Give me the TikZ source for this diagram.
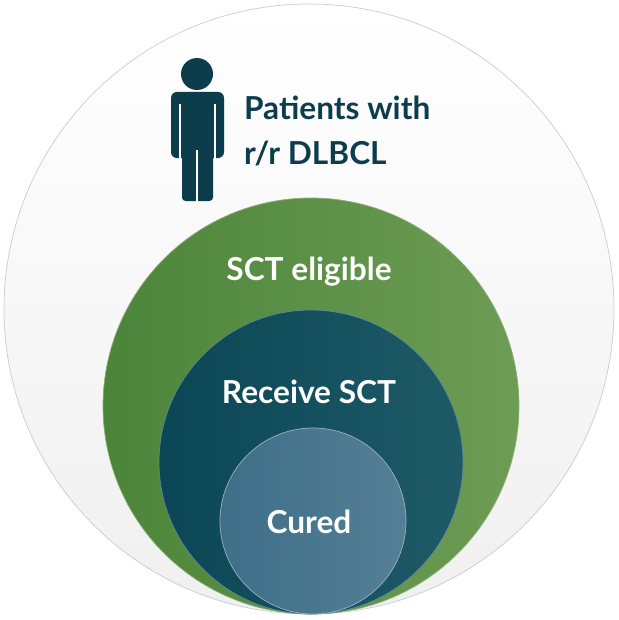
\documentclass[tikz,border=0pt]{standalone}
\usepackage{fontspec}
\setmainfont{Lato}
\usetikzlibrary{positioning}
\definecolor{ink}{HTML}{0D3D4D}
\definecolor{rimgray}{HTML}{C8CDCD}
\definecolor{greenA}{HTML}{4B853A}
\definecolor{greenB}{HTML}{6E9C55}
\definecolor{tealA}{HTML}{0B4656}
\definecolor{tealB}{HTML}{1E5A66}
\definecolor{curedA}{HTML}{3E6E88}
\definecolor{curedB}{HTML}{557F96}
\begin{document}
\begin{tikzpicture}[x=0.03cm, y=-0.03cm,
  ring/.style={draw, line width=0.6pt},
  label/.style={text=white, font=\fontsize{27}{32}\selectfont\bfseries},
  title/.style={text=ink, align=left, font=\fontsize{27}{38}\selectfont\bfseries, anchor=west}
  ]
  \useasboundingbox (0,0) rectangle (618,620);

  % nested circles, all touching at the bottom
  \shade[ring, draw=rimgray, top color=white, bottom color=gray!12] (309,309) circle (305);
  \shade[ring, draw=greenB!80!white, left color=greenA, right color=greenB] (311,406) circle (208);
  \shade[ring, draw=tealB!70!white, left color=tealA, right color=tealB] (311,462) circle (152);
  \shade[ring, draw=curedB!60!white, left color=curedA, right color=curedB] (313,521) circle (93);

  % person icon
  \fill[ink] (197,74) circle (16);
  \fill[ink, rounded corners=5pt] (171,92) rectangle (224,158);
  \fill[ink, rounded corners=3pt] (182,120) rectangle (213,201);
  \draw[white, line width=1.5pt] (180,104) -- (180,160);
  \draw[white, line width=1.5pt] (215,104) -- (215,160);
  \draw[white, line width=1.5pt] (197,150) -- (197,203);

  \node[title] (patients) at (240,131) {Patients with\\r/r DLBCL};
  \node[label] (eligible) at (309,272) {SCT eligible};
  \node[label] (receive) at (309,392) {Receive SCT};
  \node[label] (cured) at (309,522) {Cured};
\end{tikzpicture}
\end{document}
